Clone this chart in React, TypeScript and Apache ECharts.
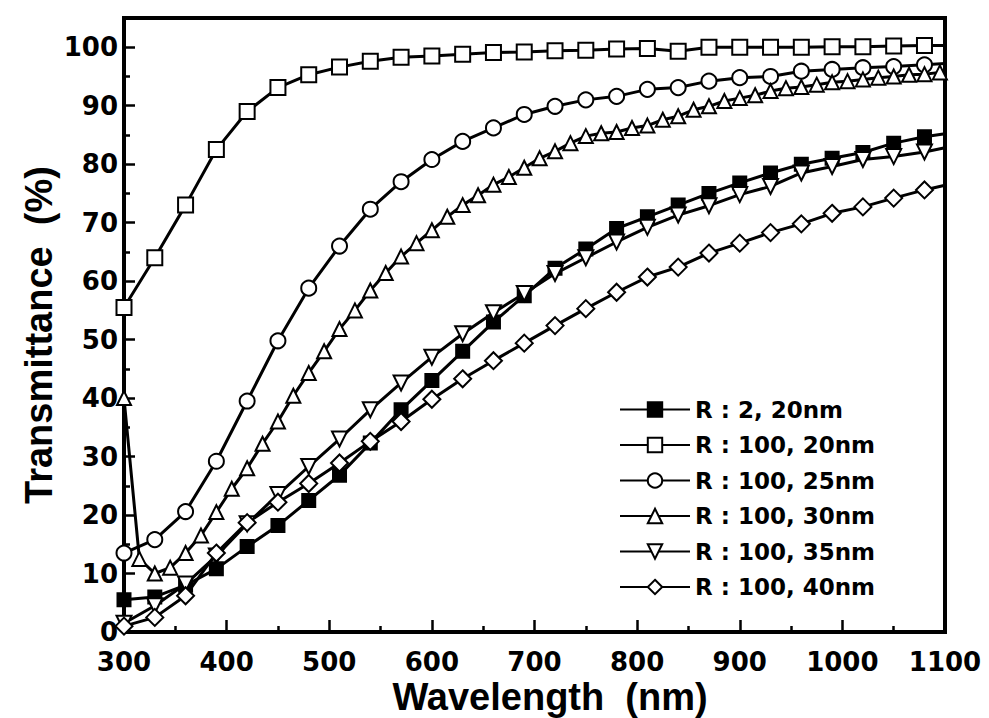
import React, { useEffect, useRef } from "react";
import * as echarts from "echarts";

// Wavelength grids (nm)
const wl30 = [300, 330, 360, 390, 420, 450, 480, 510, 540, 570, 600, 630, 660, 690, 720, 750, 780, 810, 840, 870, 900, 930, 960, 990, 1020, 1050, 1080];
const wl15 = [300, 315, 330, 345, 360, 375, 390, 405, 420, 435, 450, 465, 480, 495, 510, 525, 540, 555, 570, 585, 600, 615, 630, 645, 660, 675, 690, 705, 720, 735, 750, 765, 780, 795, 810, 825, 840, 855, 870, 885, 900, 915, 930, 945, 960, 975, 990, 1005, 1020, 1035, 1050, 1065, 1080, 1095];

// Transmittance (%)
const r2_20 = [5.5, 6, 8, 10.8, 14.6, 18.2, 22.5, 26.8, 32.3, 38, 43, 48, 53, 57.5, 62.2, 65.5, 69, 71, 73, 75, 76.8, 78.5, 80, 81, 82, 83.6, 84.7];
const r100_20 = [55.5, 64, 73, 82.5, 89, 93.1, 95.3, 96.6, 97.6, 98.3, 98.5, 98.8, 99.1, 99.2, 99.4, 99.5, 99.7, 99.8, 99.3, 100, 100, 100, 100, 100.1, 100.1, 100.2, 100.3];
const r100_25 = [13.5, 15.8, 20.6, 29.2, 39.5, 49.8, 58.8, 66, 72.3, 77, 80.8, 83.9, 86.2, 88.5, 89.9, 91, 91.6, 92.8, 93.1, 94.2, 94.8, 95, 95.9, 96.2, 96.5, 96.7, 97];
const r100_30 = [40, 12.5, 10, 11, 13.5, 16.5, 20.5, 24.5, 28, 32.2, 36, 40.4, 44.3, 48, 51.8, 55, 58.4, 61.4, 64.2, 66.5, 68.7, 71, 73, 74.7, 76.5, 77.8, 79.4, 81, 82.2, 83.6, 84.8, 85.3, 85.5, 86.2, 86.6, 87.6, 88.2, 89.3, 89.9, 90.8, 91.3, 91.8, 92.5, 93, 93.2, 93.6, 94, 94.2, 94.5, 94.8, 95, 95.3, 95.4, 95.7];
const r100_35 = [1.5, 4.5, 8.2, 13, 18.5, 23.5, 28.3, 33, 38, 42.6, 47, 51, 54.6, 57.9, 61.3, 64, 66.7, 69.2, 71.3, 72.9, 74.8, 76.2, 78.5, 79.6, 80.8, 81.3, 82.1];
const r100_40 = [1, 2.5, 6.2, 13.5, 18.7, 22.2, 25.4, 28.9, 32.6, 36, 39.8, 43.3, 46.4, 49.4, 52.4, 55.3, 58.1, 60.7, 62.4, 64.8, 66.5, 68.3, 69.8, 71.6, 72.7, 74.2, 75.6];

// Line values where each curve meets the right edge (1100 nm)
const endWavelength = 1100;
const lineEnds = [85.2, 100.3, 97.2, 95.8, 82.8, 76.4];

const seriesNames = ["R : 2, 20nm", "R : 100, 20nm", "R : 100, 25nm", "R : 100, 30nm", "R : 100, 35nm", "R : 100, 40nm"];

// Axis ticks
const xTicks = [300, 400, 500, 600, 700, 800, 900, 1000, 1100];
const yTicks = [0, 10, 20, 30, 40, 50, 60, 70, 80, 90, 100];
const yMinorTicks = [5, 15, 25, 35, 45, 55, 65, 75, 85, 95];

const xTitle = "Wavelength  (nm)";
const yTitle = "Transmittance  (%)";

const TICK_FONT = "DejaVu Sans";
const TITLE_FONT = "'Liberation Sans', Arial, sans-serif";

function buildSeries(
  name: string,
  xs: number[],
  ys: number[],
  end: number,
  symbol: string,
  size: number,
  filled: boolean
) {
  const data: any[] = xs.map((x, i) => [x, ys[i]]);
  data.push({ value: [endWavelength, end], symbol: "none" });
  return {
    name,
    type: "line",
    data,
    symbol,
    symbolSize: size,
    showSymbol: true,
    showAllSymbol: true,
    clip: false,
    lineStyle: { color: "#000", width: 3 },
    itemStyle: { color: filled ? "#000" : "#fff", borderColor: "#000", borderWidth: 2 },
    emphasis: { disabled: true },
    z: 3,
  };
}

export default function App() {
  const ref = useRef<HTMLDivElement>(null);
  useEffect(() => {
    if (!ref.current) return;
    const chart = echarts.init(ref.current, undefined, { renderer: "svg" });
    const downTri = "path://M0,0L10,0L5,10Z";
    const option: any = {
      animation: false,
      backgroundColor: "#fff",
      grid: {
        left: 124,
        top: 18,
        width: 821,
        height: 614,
        show: true,
        borderColor: "#000",
        borderWidth: 4,
        backgroundColor: "transparent",
      },
      xAxis: {
        type: "value",
        min: xTicks[0],
        max: xTicks[xTicks.length - 1],
        interval: 100,
        axisLine: { show: true, lineStyle: { color: "#000", width: 4 } },
        axisTick: { show: true, inside: true, length: 12, lineStyle: { color: "#000", width: 2.5 } },
        minorTick: { show: true, splitNumber: 2, length: 6, lineStyle: { color: "#000", width: 2.5 } },
        splitLine: { show: false },
        minorSplitLine: { show: false },
        axisLabel: {
          color: "#000",
          fontFamily: TICK_FONT,
          fontWeight: "bold",
          fontSize: 26,
          margin: 19,
          lineHeight: 22,
          formatter: (v: number) => String(v),
        },
      },
      yAxis: [
        {
          type: "value",
          min: 0,
          max: 105,
          interval: 10,
          axisLine: { show: true, lineStyle: { color: "#000", width: 4 } },
          axisTick: { show: true, inside: true, length: 11, customValues: yTicks, lineStyle: { color: "#000", width: 2.5 } },
          splitLine: { show: false },
          axisLabel: {
            customValues: yTicks,
            color: "#000",
            fontFamily: TICK_FONT,
            fontWeight: "bold",
            fontSize: 26,
            lineHeight: 20,
            margin: 6,
            formatter: (v: number) => String(v),
          },
        },
        {
          type: "value",
          min: 0,
          max: 105,
          position: "left",
          axisLine: { show: false },
          axisLabel: { show: false },
          splitLine: { show: false },
          axisTick: { show: true, inside: true, length: 6, customValues: yMinorTicks, lineStyle: { color: "#000", width: 2.5 } },
        },
      ],
      legend: {
        orient: "vertical",
        left: 614,
        top: 393,
        itemWidth: 70,
        itemHeight: 18,
        itemGap: 12.5,
        selectedMode: false,
        data: seriesNames,
        textStyle: { color: "#000", fontFamily: TICK_FONT, fontWeight: "bold", fontSize: 23 },
      },
      graphic: [
        {
          type: "text",
          x: 550,
          y: 697,
          style: {
            text: xTitle,
            font: `bold 38px ${TITLE_FONT}`,
            fill: "#000",
            textAlign: "center",
            textVerticalAlign: "middle",
          },
        },
        {
          type: "text",
          x: 39,
          y: 335,
          rotation: Math.PI / 2,
          style: {
            text: yTitle,
            font: `bold 38px ${TITLE_FONT}`,
            fill: "#000",
            textAlign: "center",
            textVerticalAlign: "middle",
          },
        },
      ],
      series: [
        buildSeries(seriesNames[0], wl30, r2_20, lineEnds[0], "rect", 13, true),
        buildSeries(seriesNames[1], wl30, r100_20, lineEnds[1], "rect", 15, false),
        buildSeries(seriesNames[2], wl30, r100_25, lineEnds[2], "circle", 15, false),
        buildSeries(seriesNames[3], wl15, r100_30, lineEnds[3], "triangle", 14, false),
        buildSeries(seriesNames[4], wl30, r100_35, lineEnds[4], downTri, 15, false),
        buildSeries(seriesNames[5], wl30, r100_40, lineEnds[5], "diamond", 17, false),
      ],
    };
    chart.setOption(option);
    return () => chart.dispose();
  }, []);
  return (
    <div
      ref={ref}
      style={{ position: "fixed", left: 0, top: 0, width: 989, height: 718, background: "#fff" }}
    />
  );
}
